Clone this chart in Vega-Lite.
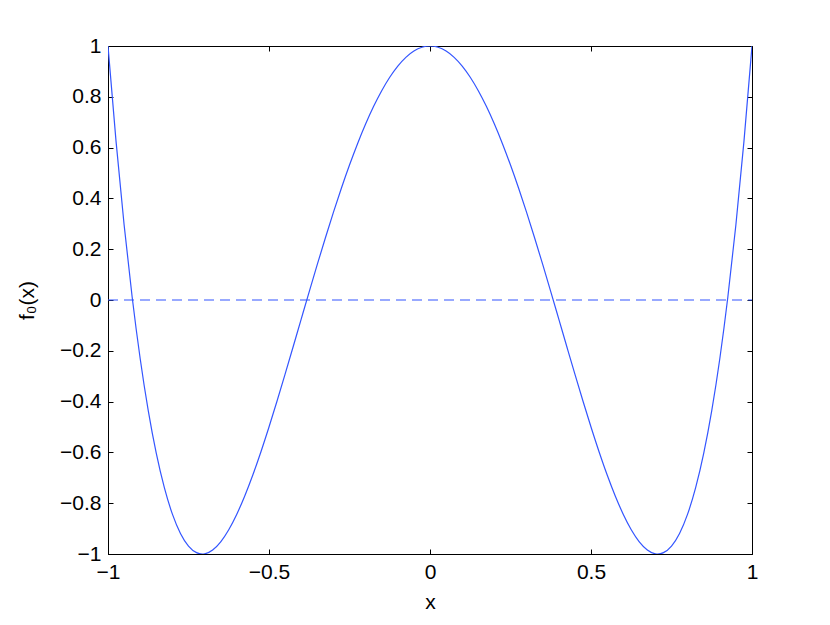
{
  "$schema": "https://vega.github.io/schema/vega-lite/v6.json",
  "width": 644,
  "height": 508,
  "autosize": {"type": "none"},
  "padding": {"left": 108, "top": 46, "right": 78, "bottom": 71},
  "background": "white",
  "config": {
    "view": {"stroke": "black", "strokeWidth": 1},
    "axis": {
      "labelFont": "Liberation Sans",
      "titleFont": "Liberation Sans",
      "labelFontSize": 21,
      "titleFontSize": 21,
      "titleFontWeight": "normal",
      "labelColor": "black",
      "titleColor": "black",
      "domainColor": "black",
      "tickColor": "black",
      "tickSize": -5,
      "grid": false,
      "labelFlush": false,
      "labelOverlap": false
    }
  },
  "datasets": {
    "curve": [
      {"x": -1, "y": 1}, {"x": -0.975, "y": 0.624503}, {"x": -0.95, "y": 0.29605}, {"x": -0.925, "y": 0.011753},
      {"x": -0.9, "y": -0.2312}, {"x": -0.875, "y": -0.435547}, {"x": -0.85, "y": -0.60395}, {"x": -0.825, "y": -0.738997},
      {"x": -0.8, "y": -0.8432}, {"x": -0.775, "y": -0.918997}, {"x": -0.75, "y": -0.96875}, {"x": -0.725, "y": -0.994747},
      {"x": -0.7071, "y": -1}, {"x": -0.7, "y": -0.9992}, {"x": -0.675, "y": -0.984247}, {"x": -0.65, "y": -0.95195},
      {"x": -0.625, "y": -0.904297}, {"x": -0.6, "y": -0.8432}, {"x": -0.575, "y": -0.770497}, {"x": -0.55, "y": -0.68795},
      {"x": -0.525, "y": -0.597247}, {"x": -0.5, "y": -0.5}, {"x": -0.475, "y": -0.397747}, {"x": -0.45, "y": -0.29195},
      {"x": -0.425, "y": -0.183997}, {"x": -0.4, "y": -0.0752}, {"x": -0.375, "y": 0.033203}, {"x": -0.35, "y": 0.14005},
      {"x": -0.325, "y": 0.244253}, {"x": -0.3, "y": 0.3448}, {"x": -0.275, "y": 0.440753}, {"x": -0.25, "y": 0.53125},
      {"x": -0.225, "y": 0.615503}, {"x": -0.2, "y": 0.6928}, {"x": -0.175, "y": 0.762503}, {"x": -0.15, "y": 0.82405},
      {"x": -0.125, "y": 0.876953}, {"x": -0.1, "y": 0.9208}, {"x": -0.075, "y": 0.955253}, {"x": -0.05, "y": 0.98005},
      {"x": -0.025, "y": 0.995003}, {"x": 0, "y": 1},
      {"x": 0.025, "y": 0.995003}, {"x": 0.05, "y": 0.98005}, {"x": 0.075, "y": 0.955253}, {"x": 0.1, "y": 0.9208},
      {"x": 0.125, "y": 0.876953}, {"x": 0.15, "y": 0.82405}, {"x": 0.175, "y": 0.762503}, {"x": 0.2, "y": 0.6928},
      {"x": 0.225, "y": 0.615503}, {"x": 0.25, "y": 0.53125}, {"x": 0.275, "y": 0.440753}, {"x": 0.3, "y": 0.3448},
      {"x": 0.325, "y": 0.244253}, {"x": 0.35, "y": 0.14005}, {"x": 0.375, "y": 0.033203}, {"x": 0.4, "y": -0.0752},
      {"x": 0.425, "y": -0.183997}, {"x": 0.45, "y": -0.29195}, {"x": 0.475, "y": -0.397747}, {"x": 0.5, "y": -0.5},
      {"x": 0.525, "y": -0.597247}, {"x": 0.55, "y": -0.68795}, {"x": 0.575, "y": -0.770497}, {"x": 0.6, "y": -0.8432},
      {"x": 0.625, "y": -0.904297}, {"x": 0.65, "y": -0.95195}, {"x": 0.675, "y": -0.984247}, {"x": 0.7, "y": -0.9992},
      {"x": 0.7071, "y": -1}, {"x": 0.725, "y": -0.994747}, {"x": 0.75, "y": -0.96875}, {"x": 0.775, "y": -0.918997},
      {"x": 0.8, "y": -0.8432}, {"x": 0.825, "y": -0.738997}, {"x": 0.85, "y": -0.60395}, {"x": 0.875, "y": -0.435547},
      {"x": 0.9, "y": -0.2312}, {"x": 0.925, "y": 0.011753}, {"x": 0.95, "y": 0.29605}, {"x": 0.975, "y": 0.624503},
      {"x": 1, "y": 1}
    ],
    "zero": [{"x": -1, "y": 0}, {"x": 1, "y": 0}]
  },
  "resolve": {"axis": {"x": "independent", "y": "independent"}},
  "layer": [
    {
      "data": {"name": "zero"},
      "mark": {"type": "line", "color": "#3355ff", "strokeWidth": 1.2, "strokeDash": [10, 6], "clip": true},
      "encoding": {
        "x": {"field": "x", "type": "quantitative", "scale": {"domain": [-1, 1], "nice": false},
              "axis": {"orient": "top", "labels": false, "title": null, "values": [-1, -0.5, 0, 0.5, 1], "domain": false}},
        "y": {"field": "y", "type": "quantitative", "scale": {"domain": [-1, 1], "nice": false, "zero": false},
              "axis": {"orient": "right", "labels": false, "title": null, "values": [-1, -0.8, -0.6, -0.4, -0.2, 0, 0.2, 0.4, 0.6, 0.8, 1], "domain": false}}
      }
    },
    {
      "data": {"name": "curve"},
      "mark": {"type": "line", "color": "#3355ff", "strokeWidth": 1.2, "clip": true, "interpolate": "monotone"},
      "encoding": {
        "x": {"field": "x", "type": "quantitative", "scale": {"domain": [-1, 1], "nice": false},
              "axis": {"orient": "bottom", "title": "x", "values": [-1, -0.5, 0, 0.5, 1], "labelPadding": 12, "titlePadding": 9, "format": "~g",
                       "labelFontSize": 21, "titleFontSize": 21,
                       "labelExpr": "replace(datum.label, '-', '\u2212')"}},
        "y": {"field": "y", "type": "quantitative", "scale": {"domain": [-1, 1], "nice": false, "zero": false},
              "axis": {"orient": "left", "title": "f\u2080(x)", "values": [-1, -0.8, -0.6, -0.4, -0.2, 0, 0.2, 0.4, 0.6, 0.8, 1], "labelPadding": 12, "titlePadding": 22, "format": "~g",
                       "labelFontSize": 21, "titleFontSize": 21,
                       "labelExpr": "replace(datum.label, '-', '\u2212')"}}
      }
    }
  ]
}
